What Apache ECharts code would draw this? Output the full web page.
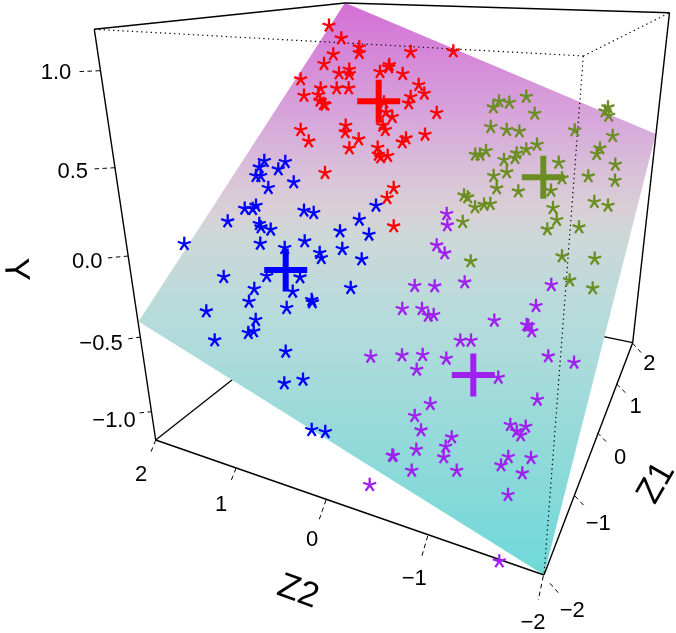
<!DOCTYPE html>
<html>
<head>
<meta charset="utf-8">
<style>html,body{margin:0;padding:0;background:#fff}#c{width:676px;height:633px}</style>
<script src="https://cdn.jsdelivr.net/npm/echarts@6/dist/echarts.min.js"></script>
</head>
<body>
<div id="c"></div>
<script>
const redPoints = [[329,25],[341.3,37.7],[359.3,46.7],[359.3,52.3],[333.3,53.7],[324,63.3],[410.7,51.3],[453.3,50.7],[389.3,64.3],[388.7,66.7],[380,71.3],[402.7,73.3],[339,72.7],[349.3,69],[349.3,73.3],[300.7,78.7],[320.7,87.7],[318.3,94.3],[304,95],[320,100],[323.3,103.3],[325,104],[336.7,87.7],[348.7,87.7],[418.7,84.3],[424.3,93],[410.7,96.3],[408.7,102.7],[384,101.7],[386,111.7],[392.3,116.3],[382.7,125],[385.3,129.3],[436.7,112.3],[345.7,125],[345.3,131.7],[300.7,129.3],[308.7,140.7],[358.7,138.7],[349.3,147.7],[425,134],[406,137.7],[402.3,141.7],[377.7,147],[378.3,154],[380.7,156.7],[387.7,155.3],[325,172.3],[393.7,187.3],[387,197.3],[393.7,225.7]];
const bluePoints = [[264.3,160.3],[285.3,161.3],[259.3,166.7],[278.3,168.7],[256,175.3],[260.7,175.3],[293.7,181.7],[268.3,187.3],[244.7,208],[252.7,208.3],[256,205],[304,210],[313.7,212.3],[227.7,220.7],[259.3,223.3],[261,226.7],[270.7,229],[376,205],[359.3,219],[340,230.7],[369,234],[184.3,243.3],[260.3,243],[304.7,240.7],[284.7,247.3],[319.7,252.3],[321.3,257.3],[342.3,248.3],[361.7,258.7],[223.7,276.3],[266.7,275.3],[300,276.7],[254.3,288.3],[292.7,291],[350.7,287.3],[249,301],[286.7,307.3],[311.7,299.3],[312.3,301.7],[206.3,310.7],[255.7,319.3],[248.3,332.3],[253.7,330.7],[214.7,339.7],[285.7,351],[303,379],[284.3,382.7],[311.7,429.3],[325.3,431.3]];
const olivePoints = [[526.3,96],[499,100.7],[509.3,102],[493.3,106.7],[534.7,113],[608,106.7],[605,110.7],[608.7,115],[490.7,126.3],[506.7,129.3],[519.3,130.7],[574.7,129.7],[612.7,135.3],[537,144],[526.3,148.7],[516.7,152.7],[515,157.3],[504,159.3],[486,150.3],[480,154],[475.3,154],[600,147.7],[596.7,153.3],[615.3,164],[558.7,162],[506.7,171.7],[493.7,175.3],[562,177.7],[588.3,175.7],[615,180],[496.7,187.7],[518.3,190.7],[551,190],[464,194.7],[467.7,196.7],[475,206.7],[484,204],[490.3,203.3],[594.3,201.3],[608,205],[553,207.3],[556.7,219.3],[462.7,221.3],[547.3,228.7],[579,226.7],[470.7,260.7],[562,255.7],[594.7,258],[569.7,279.7],[592.7,287.7]];
const purplePoints = [[446.7,213.3],[447.3,224.7],[436.7,244.7],[444.7,252.7],[464.7,281.7],[414.7,285.3],[434.7,285.7],[551.3,284.3],[402.3,308.3],[422,308.3],[428.3,315],[433.7,314.3],[494.3,320],[536,305.3],[526.7,324.3],[528.3,325],[531.7,330.7],[460.3,340],[471,340],[370.7,356],[402,354.7],[422.7,354.3],[446.3,358],[416.7,369],[498.3,377],[548.3,355.7],[574,362],[537.3,399],[430.3,403.3],[414.7,415.3],[421,429.7],[510.3,424.3],[525.7,426],[516.7,430.7],[520.7,434.7],[451.7,436.7],[445.7,446],[443.7,456.7],[416.3,449],[392.3,455],[393.3,455],[508.3,456.3],[531,457.3],[501,464.7],[522.3,472.7],[411.7,470],[456.7,470],[508,494.3],[369.7,484.3],[499.3,560.7]];
const groupCentres = [[378.7,101.3],[285.7,270],[543.3,177.3],[473.3,375]];
const groupColors = ['#ff0000','#0000ff','#6b8e23','#a020f0'];

const planeCorners = [[345,2.7],[655.8,134],[544,575],[138.6,321.5]];
const boxOuter = [[94.3,29.3,345,3],[345,3,669.5,12.7],[669.5,12.7,632.7,342.7],[632.7,342.7,544,575],[544,575,155.7,440],[155.7,440,94.3,29.3]];
const boxHidden = [[155.7,440,352.6,285],[632.7,342.7,352.6,285]];
const boxDotted = [[94.3,29.3,583.3,56],[583.3,56,669.5,12.7],[583.3,56,544,575]];
const tickSegments = [
  [100,70.7,77.3,71.7],[115,167.7,92.7,169],[128.3,256,107.3,258],[140.7,337,127.3,339],[152,411.7,138.3,413],
  [155.7,440,150.7,452.7],[236,468.3,230.7,481.7],[326,500,319.3,519.3],[427.7,536,421.7,556.7],[543.3,576,538.3,600],
  [550,583.3,558.3,592.7],[575,496,584,505.7],[597.3,432.7,607.3,442.7],[616.7,384,626.7,394],[632.7,343.3,641.7,353.3]
];
const tickLabels = ['1.0','0.5','0.0','\u22120.5','\u22121.0','2','1','0','\u22121','\u22122','2','1','0','\u22121','\u22122'];
const tickLabelAnchors = [[56,73],[72.7,172],[87.3,262],[101,344],[114,420.7],[141,475],[221,505],[312,540],[414.3,579.3],[533,622.7],[649.3,364],[635.7,406.7],[620,458.3],[598.3,524.3],[572.3,610.7]];
const axisTitles = ['Y','Z2','Z1'];
const axisTitleAnchors = [[15,270],[298,592],[656.7,483]];
const axisTitleAngles = [-87,-20,60];

const FONT = '"Liberation Sans", Arial, sans-serif';
const starPath = 'path://M0,-5L0,0M4.755,-1.545L0,0M2.939,4.045L0,0M-2.939,4.045L0,0M-4.755,-1.545L0,0';
const plusPath = 'path://M-3,-21.5L3,-21.5L3,-3L21.5,-3L21.5,3L3,3L3,21.5L-3,21.5L-3,3L-21.5,3L-21.5,-3L-3,-3Z';

function segmentSeries(rows, z, style) {
  return {
    type: 'custom', z, silent: true, animation: false, clip: false,
    data: rows,
    encode: { x: [0, 2], y: [1, 3] },
    renderItem(params, api) {
      const a = api.coord([api.value(0), api.value(1)]);
      const b = api.coord([api.value(2), api.value(3)]);
      return { type: 'line', shape: { x1: a[0], y1: a[1], x2: b[0], y2: b[1] }, style: Object.assign({ fill: null }, style) };
    }
  };
}
function starSeries(points, color) {
  return {
    type: 'scatter', z: 5, silent: true, data: points, symbol: starPath, symbolSize: 13,
    itemStyle: { color: 'none', borderColor: color, borderWidth: 2.3, opacity: 1 }
  };
}
function textSeries(labels, anchors, size, angles) {
  return {
    type: 'custom', z: 7, silent: true, animation: false, clip: false,
    data: anchors,
    encode: { x: 0, y: 1 },
    renderItem(params, api) {
      const p = api.coord([api.value(0), api.value(1)]);
      return {
        type: 'text', x: p[0], y: p[1],
        rotation: angles ? angles[params.dataIndex] * Math.PI / 180 : 0,
        style: { text: labels[params.dataIndex], font: size + 'px ' + FONT, fill: '#000', align: 'center', verticalAlign: 'middle' }
      };
    }
  };
}

const chart = echarts.init(document.getElementById('c'), null, { renderer: 'canvas' });
chart.setOption({
  animation: false,
  backgroundColor: '#fff',
  grid: { left: 0, right: 0, top: 0, bottom: 0 },
  xAxis: { type: 'value', min: 0, max: 676, show: false },
  yAxis: { type: 'value', min: 0, max: 633, inverse: true, show: false },
  tooltip: { show: false },
  series: [
    segmentSeries(boxHidden, 1, { stroke: '#000', lineWidth: 1.3 }),
    {
      type: 'custom', z: 2, silent: true, animation: false, clip: false,
      data: planeCorners, encode: { x: 0, y: 1 },
      renderItem(params, api) {
        if (params.dataIndex !== 0) return null;
        const pts = planeCorners.map(c => api.coord(c));
        return {
          type: 'polygon', shape: { points: pts },
          style: { fill: { type: 'linear', x: 0, y: 0, x2: 0, y2: 1, colorStops: [
            { offset: 0, color: '#d46fd6' },
            { offset: 0.23, color: '#d7aedb' },
            { offset: 0.31, color: '#d9c4d8' },
            { offset: 0.365, color: '#d9d0d6' },
            { offset: 0.41, color: '#ccd8d8' },
            { offset: 0.55, color: '#b7dbdb' },
            { offset: 1, color: '#6fd8d8' }
          ] } }
        };
      }
    },
    segmentSeries(boxOuter, 3, { stroke: '#000', lineWidth: 1.4 }),
    segmentSeries(boxDotted, 3, { stroke: '#000', lineWidth: 1.2, lineDash: [1.3, 3.4] }),
    segmentSeries(tickSegments, 3, { stroke: '#000', lineWidth: 1, lineDash: [4.5, 3.5] }),
    starSeries(redPoints, groupColors[0]),
    starSeries(bluePoints, groupColors[1]),
    starSeries(olivePoints, groupColors[2]),
    starSeries(purplePoints, groupColors[3]),
    {
      type: 'scatter', z: 6, silent: true, symbol: plusPath, symbolSize: 43,
      data: groupCentres.map((c, i) => ({ value: c, itemStyle: { color: groupColors[i], opacity: 1 } }))
    },
    textSeries(tickLabels, tickLabelAnchors, 22),
    textSeries(axisTitles, axisTitleAnchors, 35, axisTitleAngles)
  ]
});
</script>
</body>
</html>
